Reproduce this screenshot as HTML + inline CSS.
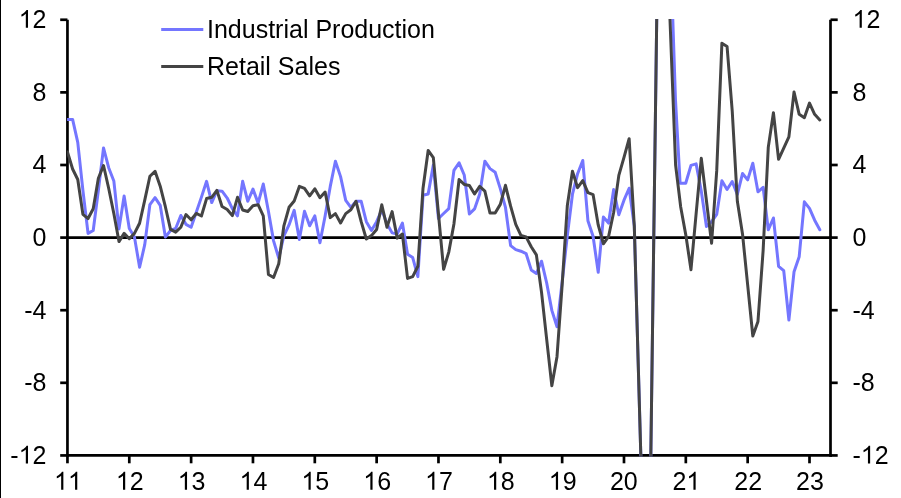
<!DOCTYPE html>
<html><head><meta charset="utf-8"><style>
html,body{margin:0;padding:0;background:#fff;}
body{width:901px;height:498px;overflow:hidden;position:relative;}
svg{position:absolute;left:0;top:0;will-change:transform;}
text{font-family:"Liberation Sans",sans-serif;font-size:25px;fill:#000;}
</style></head><body>
<svg width="901" height="498" viewBox="0 0 901 498">
<rect x="0" y="0" width="901" height="498" fill="#fff"/>
<rect x="0" y="0" width="1" height="498" fill="#000"/>
<g stroke="#000" stroke-width="2.7" fill="none">
<line x1="67.45" y1="19.8" x2="67.45" y2="456.8"/>
<line x1="830.5" y1="19.8" x2="830.5" y2="456.8"/>
<line x1="66.1" y1="237.60" x2="831.8" y2="237.60"/>
<line x1="66.1" y1="455.45" x2="831.8" y2="455.45"/>
<line x1="60.2" y1="19.76" x2="67.45" y2="19.76"/><line x1="830.5" y1="19.76" x2="837.7" y2="19.76"/><line x1="60.2" y1="92.38" x2="67.45" y2="92.38"/><line x1="830.5" y1="92.38" x2="837.7" y2="92.38"/><line x1="60.2" y1="164.99" x2="67.45" y2="164.99"/><line x1="830.5" y1="164.99" x2="837.7" y2="164.99"/><line x1="60.2" y1="237.60" x2="67.45" y2="237.60"/><line x1="830.5" y1="237.60" x2="837.7" y2="237.60"/><line x1="60.2" y1="310.21" x2="67.45" y2="310.21"/><line x1="830.5" y1="310.21" x2="837.7" y2="310.21"/><line x1="60.2" y1="382.82" x2="67.45" y2="382.82"/><line x1="830.5" y1="382.82" x2="837.7" y2="382.82"/><line x1="60.2" y1="455.44" x2="67.45" y2="455.44"/><line x1="830.5" y1="455.44" x2="837.7" y2="455.44"/><line x1="67.45" y1="455.45" x2="67.45" y2="463.3"/><line x1="129.29" y1="455.45" x2="129.29" y2="463.3"/><line x1="191.12" y1="455.45" x2="191.12" y2="463.3"/><line x1="252.96" y1="455.45" x2="252.96" y2="463.3"/><line x1="314.80" y1="455.45" x2="314.80" y2="463.3"/><line x1="376.64" y1="455.45" x2="376.64" y2="463.3"/><line x1="438.47" y1="455.45" x2="438.47" y2="463.3"/><line x1="500.31" y1="455.45" x2="500.31" y2="463.3"/><line x1="562.15" y1="455.45" x2="562.15" y2="463.3"/><line x1="623.99" y1="455.45" x2="623.99" y2="463.3"/><line x1="685.82" y1="455.45" x2="685.82" y2="463.3"/><line x1="747.66" y1="455.45" x2="747.66" y2="463.3"/><line x1="809.50" y1="455.45" x2="809.50" y2="463.3"/>
</g>
<defs><clipPath id="c"><rect x="67.1" y="19.0" width="765" height="437.6"/></clipPath></defs>
<g clip-path="url(#c)" fill="none" stroke-linejoin="round" stroke-linecap="round">
<path d="M67.45,119.42 L72.60,119.42 L77.76,142.30 L82.91,190.40 L88.06,233.42 L93.22,230.52 L98.37,190.40 L103.52,147.92 L108.67,167.71 L113.83,180.96 L118.98,228.89 L124.13,196.03 L129.29,228.52 L134.44,237.06 L139.59,267.19 L144.75,244.68 L149.90,204.56 L155.05,197.66 L160.21,205.29 L165.36,237.06 L170.51,230.52 L175.67,228.52 L180.82,215.45 L185.97,224.35 L191.12,227.25 L196.28,212.19 L201.43,197.12 L206.58,181.33 L211.74,202.56 L216.89,190.77 L222.04,191.13 L227.20,198.03 L232.35,208.56 L237.50,215.82 L242.66,181.33 L247.81,201.29 L252.96,189.13 L258.12,203.11 L263.27,184.05 L268.42,211.28 L273.57,240.87 L278.73,258.11 L283.88,235.78 L289.03,224.89 L294.19,210.37 L299.34,239.42 L304.49,211.28 L309.65,225.80 L314.80,215.82 L319.95,242.68 L325.11,216.00 L330.26,186.41 L335.41,161.18 L340.57,176.61 L345.72,200.39 L350.87,207.47 L356.02,201.29 L361.18,201.29 L366.33,221.63 L371.48,230.52 L376.64,221.63 L381.79,209.83 L386.94,223.80 L392.10,232.88 L397.25,233.97 L402.40,223.08 L407.56,254.30 L412.71,257.57 L417.86,276.63 L423.02,195.30 L428.17,194.03 L433.32,164.99 L438.47,218.54 L443.63,213.46 L448.78,208.56 L453.93,170.43 L459.09,162.81 L464.24,174.97 L469.39,214.00 L474.55,208.92 L479.70,194.03 L484.85,161.18 L490.01,168.62 L495.16,172.25 L500.31,188.59 L505.47,207.47 L510.62,245.59 L515.77,249.58 L520.92,251.21 L526.08,253.57 L531.23,269.91 L536.38,273.54 L541.54,261.20 L546.69,282.98 L551.84,310.39 L557.00,326.73 L562.15,281.89 L567.30,235.78 L572.46,194.21 L577.61,173.70 L582.76,160.45 L587.92,220.72 L593.07,236.33 L598.22,272.27 L603.38,217.09 L608.53,223.08 L613.68,189.49 L618.83,214.73 L623.99,200.20 L629.14,188.22 L634.30,226.00 L647.60,694.00 L661.30,-319.00 L672.80,19.80 L675.50,100.00 L680.10,183.20 L685.70,183.20 L690.98,165.35 L696.13,163.90 L701.28,191.13 L706.44,226.53 L711.59,221.63 L716.74,214.36 L721.90,180.78 L727.05,189.49 L732.20,181.51 L737.36,194.40 L742.51,173.52 L747.66,179.87 L752.82,163.17 L757.97,191.85 L763.12,187.32 L768.27,229.79 L773.43,217.99 L778.58,266.28 L783.73,270.64 L788.89,320.01 L794.04,271.73 L799.19,256.66 L804.35,201.84 L809.50,208.37 L814.65,220.17 L819.81,229.79" stroke="#7476FF" stroke-width="3"/>
<path d="M67.45,151.92 L72.60,168.98 L77.76,179.51 L82.91,214.36 L88.06,218.54 L93.22,208.74 L98.37,178.24 L103.52,165.53 L108.67,188.22 L113.83,213.46 L118.98,241.59 L124.13,233.42 L129.29,238.69 L134.44,233.42 L139.59,223.26 L144.75,200.20 L149.90,176.24 L155.05,171.34 L160.21,186.23 L165.36,206.74 L170.51,229.43 L175.67,232.15 L180.82,227.25 L185.97,214.55 L191.12,219.81 L196.28,213.46 L201.43,216.00 L206.58,198.57 L211.74,197.30 L216.89,190.40 L222.04,206.56 L227.20,209.46 L232.35,215.63 L237.50,197.30 L242.66,210.01 L247.81,211.46 L252.96,205.65 L258.12,204.74 L263.27,215.82 L268.42,274.45 L273.57,277.54 L278.73,263.74 L283.88,225.80 L289.03,207.28 L294.19,200.93 L299.34,186.41 L304.49,188.41 L309.65,195.85 L314.80,188.77 L319.95,197.66 L325.11,192.04 L330.26,217.63 L335.41,213.64 L340.57,222.90 L345.72,213.64 L350.87,209.83 L356.02,201.29 L361.18,221.63 L366.33,239.05 L371.48,235.60 L376.64,229.43 L381.79,204.74 L386.94,227.25 L392.10,211.64 L397.25,238.14 L402.40,233.97 L407.56,278.44 L412.71,276.63 L417.86,266.28 L423.02,188.22 L428.17,150.47 L433.32,157.55 L438.47,214.00 L443.63,269.37 L448.78,252.12 L453.93,223.99 L459.09,179.51 L464.24,184.41 L469.39,185.50 L474.55,194.03 L479.70,186.41 L484.85,191.13 L490.01,213.09 L495.16,213.09 L500.31,204.38 L505.47,185.32 L510.62,206.20 L515.77,224.35 L520.92,235.42 L526.08,236.87 L531.23,246.68 L536.38,254.85 L541.54,292.42 L546.69,339.44 L551.84,385.73 L557.00,356.68 L562.15,284.80 L567.30,205.83 L572.46,171.16 L577.61,187.68 L582.76,180.60 L587.92,192.58 L593.07,194.58 L598.22,224.89 L603.38,243.77 L608.53,236.69 L613.68,212.19 L618.83,175.34 L623.99,157.36 L629.14,138.67 L634.30,226.00 L647.60,694.00 L660.00,-224.00 L670.00,19.80 L675.60,165.00 L680.70,207.00 L685.90,235.50 L690.98,269.73 L696.13,213.64 L701.28,158.27 L706.44,200.75 L711.59,243.23 L716.74,170.43 L721.90,43.18 L727.05,46.45 L732.20,110.53 L737.36,201.29 L742.51,233.97 L747.66,284.80 L752.82,335.99 L757.97,321.47 L763.12,250.67 L768.27,147.38 L773.43,112.71 L778.58,159.36 L783.73,148.11 L788.89,136.85 L794.04,92.01 L799.19,114.34 L804.35,117.79 L809.50,103.09 L814.65,114.34 L819.81,119.97" stroke="#444444" stroke-width="3"/>
</g>
<line x1="161.2" y1="29.5" x2="203.3" y2="29.5" stroke="#7476FF" stroke-width="3"/>
<line x1="161.2" y1="66.5" x2="203.3" y2="66.5" stroke="#444444" stroke-width="3"/>
<text x="207" y="37.7">Industrial Production</text>
<text x="207" y="75">Retail Sales</text>
<text x="32.60" y="27.86">2</text><path d="M28.01,27.86 L25.81,27.86 L25.81,13.86 Q25.02,14.62 23.73,15.38 Q22.44,16.13 21.41,16.51 L21.41,14.39 Q23.26,13.52 24.64,12.29 Q26.02,11.05 26.59,9.97 L28.01,9.97 Z " fill="#000"/><text x="866.40" y="27.86">2</text><path d="M861.81,27.86 L859.62,27.86 L859.62,13.86 Q858.82,14.62 857.54,15.38 Q856.25,16.13 855.22,16.51 L855.22,14.39 Q857.07,13.52 858.44,12.29 Q859.82,11.05 860.40,9.97 L861.81,9.97 Z " fill="#000"/><text x="32.60" y="101.48">8</text><text x="852.50" y="101.48">8</text><text x="32.60" y="173.09">4</text><text x="852.50" y="173.09">4</text><text x="32.60" y="245.70">0</text><text x="852.50" y="245.70">0</text><text x="24.27" y="319.11">-</text><text x="32.60" y="319.11">4</text><text x="852.50" y="319.11">-</text><text x="860.83" y="319.11">4</text><text x="24.27" y="390.92">-</text><text x="32.60" y="390.92">8</text><text x="852.50" y="390.92">-</text><text x="860.83" y="390.92">8</text><text x="10.37" y="463.54">-</text><text x="32.60" y="463.54">2</text><path d="M28.01,463.54 L25.81,463.54 L25.81,449.53 Q25.02,450.29 23.73,451.05 Q22.44,451.81 21.41,452.18 L21.41,450.06 Q23.26,449.19 24.64,447.96 Q26.02,446.73 26.59,445.64 L28.01,445.64 Z " fill="#000"/><text x="852.50" y="463.54">-</text><text x="874.73" y="463.54">2</text><path d="M870.14,463.54 L867.94,463.54 L867.94,449.53 Q867.15,450.29 865.86,451.05 Q864.57,451.81 863.55,452.18 L863.55,450.06 Q865.39,449.19 866.77,447.96 Q868.15,446.73 868.72,445.64 L870.14,445.64 Z " fill="#000"/>
<path d="M63.36,489.70 L61.16,489.70 L61.16,475.70 Q60.37,476.46 59.08,477.21 Q57.79,477.97 56.77,478.35 L56.77,476.22 Q58.61,475.36 59.99,474.12 Q61.37,472.89 61.94,471.80 L63.36,471.80 Z M77.26,489.70 L75.07,489.70 L75.07,475.70 Q74.27,476.46 72.99,477.21 Q71.70,477.97 70.67,478.35 L70.67,476.22 Q72.52,475.36 73.89,474.12 Q75.27,472.89 75.85,471.80 L77.26,471.80 Z " fill="#000"/><text x="129.79" y="489.70">2</text><path d="M125.20,489.70 L123.00,489.70 L123.00,475.70 Q122.21,476.46 120.92,477.21 Q119.63,477.97 118.61,478.35 L118.61,476.22 Q120.45,475.36 121.83,474.12 Q123.21,472.89 123.78,471.80 L125.20,471.80 Z " fill="#000"/><text x="191.62" y="489.70">3</text><path d="M187.04,489.70 L184.84,489.70 L184.84,475.70 Q184.04,476.46 182.76,477.21 Q181.47,477.97 180.44,478.35 L180.44,476.22 Q182.29,475.36 183.67,474.12 Q185.05,472.89 185.62,471.80 L187.04,471.80 Z " fill="#000"/><text x="253.46" y="489.70">4</text><path d="M248.87,489.70 L246.68,489.70 L246.68,475.70 Q245.88,476.46 244.59,477.21 Q243.31,477.97 242.28,478.35 L242.28,476.22 Q244.12,475.36 245.50,474.12 Q246.88,472.89 247.46,471.80 L248.87,471.80 Z " fill="#000"/><text x="315.30" y="489.70">5</text><path d="M310.71,489.70 L308.51,489.70 L308.51,475.70 Q307.72,476.46 306.43,477.21 Q305.14,477.97 304.12,478.35 L304.12,476.22 Q305.96,475.36 307.34,474.12 Q308.72,472.89 309.29,471.80 L310.71,471.80 Z " fill="#000"/><text x="377.14" y="489.70">6</text><path d="M372.55,489.70 L370.35,489.70 L370.35,475.70 Q369.56,476.46 368.27,477.21 Q366.98,477.97 365.96,478.35 L365.96,476.22 Q367.80,475.36 369.18,474.12 Q370.56,472.89 371.13,471.80 L372.55,471.80 Z " fill="#000"/><text x="438.97" y="489.70">7</text><path d="M434.39,489.70 L432.19,489.70 L432.19,475.70 Q431.39,476.46 430.11,477.21 Q428.82,477.97 427.79,478.35 L427.79,476.22 Q429.64,475.36 431.02,474.12 Q432.40,472.89 432.97,471.80 L434.39,471.80 Z " fill="#000"/><text x="500.81" y="489.70">8</text><path d="M496.22,489.70 L494.03,489.70 L494.03,475.70 Q493.23,476.46 491.94,477.21 Q490.66,477.97 489.63,478.35 L489.63,476.22 Q491.47,475.36 492.85,474.12 Q494.23,472.89 494.81,471.80 L496.22,471.80 Z " fill="#000"/><text x="562.65" y="489.70">9</text><path d="M558.06,489.70 L555.86,489.70 L555.86,475.70 Q555.07,476.46 553.78,477.21 Q552.49,477.97 551.47,478.35 L551.47,476.22 Q553.31,475.36 554.69,474.12 Q556.07,472.89 556.64,471.80 L558.06,471.80 Z " fill="#000"/><text x="609.88" y="489.70">2</text><text x="623.79" y="489.70">0</text><text x="672.42" y="489.70">2</text><path d="M695.64,489.70 L693.44,489.70 L693.44,475.70 Q692.65,476.46 691.36,477.21 Q690.07,477.97 689.05,478.35 L689.05,476.22 Q690.89,475.36 692.27,474.12 Q693.65,472.89 694.22,471.80 L695.64,471.80 Z " fill="#000"/><text x="734.26" y="489.70">2</text><text x="748.16" y="489.70">2</text><text x="796.10" y="489.70">2</text><text x="810.00" y="489.70">3</text>
</svg>
</body></html>
